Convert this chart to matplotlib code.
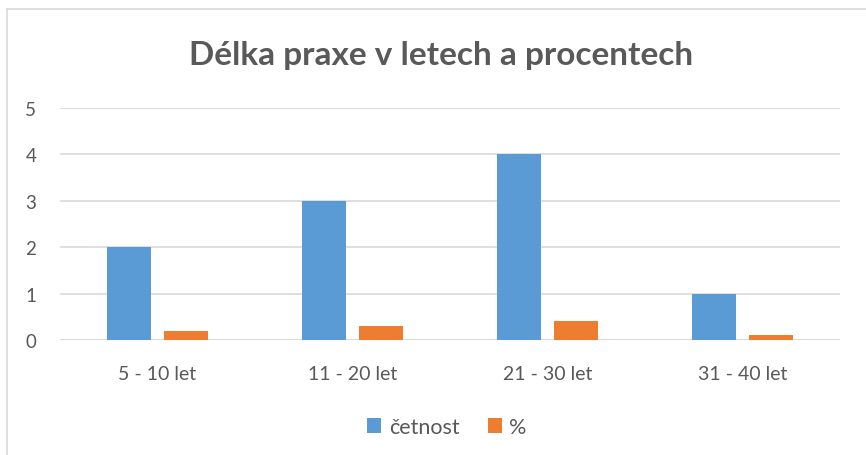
import matplotlib
matplotlib.use('Agg')
import matplotlib.pyplot as plt
from matplotlib.lines import Line2D
import numpy as np

# data
categories = ['5 - 10 let', '11 - 20 let', '21 - 30 let', '31 - 40 let']
cetnost = [2, 3, 4, 1]
procenta = [0.2, 0.3, 0.4, 0.1]
series_names = ['četnost', '%']
y_ticks = [0, 1, 2, 3, 4, 5]

# styl
BLUE = '#5b9bd5'
ORANGE = '#ed7d31'
GRID = '#d9d9d9'
TEXT = '#595959'
FONT = 'Lato'

fig = plt.figure(figsize=(8.66, 4.56), dpi=100)
fig.patch.set_facecolor('white')

# rámeček grafu (jen levá a horní hrana viditelná)
W, H = 866, 456
fig.add_artist(Line2D([7 / W, 7 / W], [0, 1 - 10 / H], color=GRID, lw=1.2))
fig.add_artist(Line2D([7 / W, 1], [1 - 10 / H, 1 - 10 / H], color=GRID, lw=1.2))

ax = fig.add_axes([60 / W, 1 - 341 / H, 780 / W, 232 / H])
x = np.arange(len(categories))
bw = 0.226
off = 0.144
ax.bar(x - off, cetnost, bw, color=BLUE, label=series_names[0], zorder=3)
ax.bar(x + off, procenta, bw, color=ORANGE, label=series_names[1], zorder=3)

ax.set_xlim(-0.5, len(categories) - 0.5)
ax.set_ylim(0, 5)
ax.set_yticks(y_ticks)
ax.set_yticklabels([str(v) for v in y_ticks], fontsize=13.5, color=TEXT, fontfamily=FONT)
ax.set_xticks(x)
ax.set_xticklabels(categories, fontsize=14, color=TEXT, fontfamily=FONT)
ax.tick_params(axis='both', length=0)
ax.tick_params(axis='y', pad=17)
ax.tick_params(axis='x', pad=18)
ax.grid(axis='y', color=GRID, lw=1.2, zorder=0)
for s in ax.spines.values():
    s.set_visible(False)
ax.axhline(0, color=GRID, lw=1.2, zorder=2)

fig.text(441 / W, 1 - 55 / H, 'Délka praxe v letech a procentech', ha='center', va='center',
         fontsize=24, fontweight='bold', color=TEXT, fontfamily=FONT)

leg = fig.legend(loc='center', bbox_to_anchor=(447 / W, 1 - 428 / H), ncol=2, frameon=False,
                 prop={'family': FONT, 'size': 15.5}, handlelength=0.65, handleheight=0.65,
                 handletextpad=0.35, columnspacing=1.3)
for t in leg.get_texts():
    t.set_color(TEXT)

fig.savefig('out.png', dpi=100, facecolor='white')
